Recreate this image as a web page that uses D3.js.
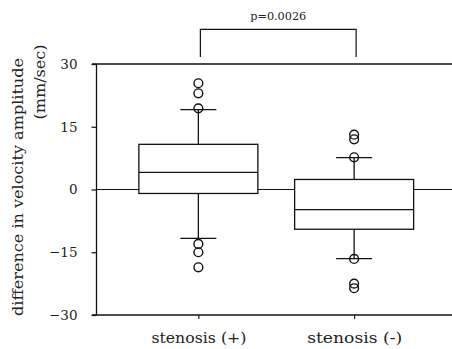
<!DOCTYPE html>
<html><head><meta charset="utf-8">
<script src="https://cdn.jsdelivr.net/npm/d3@7"></script>
<style>body{margin:0;background:#fff;} svg{display:block;}</style>
</head><body>
<svg id="c" width="452" height="349"></svg>
<script>
const categories = ["stenosis (+)", "stenosis (-)"];
const q1 = [-0.95, -9.5];
const median = [4.1, -4.8];
const q3 = [10.8, 2.4];
const whiskerLow = [-11.7, -16.5];
const whiskerHigh = [19.1, 7.6];
const outliers = [
  [25.4, 23.0, 19.4, -13.0, -15.0, -18.6],
  [13.1, 12.0, 7.7, -16.6, -22.5, -23.6]
];
const yTicks = [-30, -15, 0, 15, 30];
const pLabel = "p=0.0026";
const bracketTop = 38.3, bracketBottom = 31.7;
const yLabel1 = "difference in velocity amplitude";
const yLabel2 = "(mm/sec)";

const svg = d3.select("#c");
const font = "'DejaVu Serif', 'Liberation Serif', serif";
const x = d3.scalePoint().domain(categories).range([96.5, 456]).padding(0.654);
const y = d3.scaleLinear().domain([-30, 30]).range([315, 64]);
const boxW = 119, capW = 36, r = 4.4;
const ink = "#111";

// axes frame
const g = svg.append("g").attr("stroke", ink).attr("fill", "none");
g.append("line").attr("x1", x.range()[0]).attr("x2", x.range()[0]).attr("y1", y(-30)).attr("y2", y(30)).attr("stroke-width", 1.3);
g.append("line").attr("x1", 92).attr("x2", 452).attr("y1", y(30)).attr("y2", y(30)).attr("stroke-width", 1.3);
g.append("line").attr("x1", 92).attr("x2", 452).attr("y1", y(-30)).attr("y2", y(-30)).attr("stroke-width", 1.3);
g.append("line").attr("x1", x.range()[0]).attr("x2", 452).attr("y1", y(0)).attr("y2", y(0)).attr("stroke-width", 1.1);

// y ticks
const yAxis = d3.axisLeft(y).tickValues(yTicks).tickSize(5).tickPadding(14)
  .tickFormat(d => d < 0 ? "\u2212" + Math.abs(d) : d);
const ya = svg.append("g").attr("transform", `translate(${x.range()[0]},0)`).call(yAxis);
ya.select(".domain").remove();
ya.selectAll("line").attr("stroke", ink).attr("stroke-width", 1.2);
ya.selectAll("text").attr("font-family", font).attr("font-size", 13.5).attr("fill", "#222");

// x ticks & labels
const xAxis = d3.axisBottom(x).tickSize(4).tickPadding(14);
const xa = svg.append("g").attr("transform", `translate(0,${y(-30)})`).call(xAxis);
xa.select(".domain").remove();
xa.selectAll("line").attr("stroke", ink).attr("stroke-width", 1.1);
xa.selectAll("text").attr("font-family", font).attr("font-size", 14).attr("fill", "#222")
  .attr("textLength", 95).attr("lengthAdjust", "spacingAndGlyphs");

// boxes
categories.forEach((c, i) => {
  const cx = x(c);
  const b = svg.append("g").attr("stroke", ink).attr("stroke-width", 1.3);
  b.append("line").attr("x1", cx).attr("x2", cx).attr("y1", y(whiskerHigh[i])).attr("y2", y(q3[i]));
  b.append("line").attr("x1", cx).attr("x2", cx).attr("y1", y(q1[i])).attr("y2", y(whiskerLow[i]));
  b.append("line").attr("x1", cx - capW/2).attr("x2", cx + capW/2).attr("y1", y(whiskerHigh[i])).attr("y2", y(whiskerHigh[i]));
  b.append("line").attr("x1", cx - capW/2).attr("x2", cx + capW/2).attr("y1", y(whiskerLow[i])).attr("y2", y(whiskerLow[i]));
  b.append("rect").attr("x", cx - boxW/2).attr("width", boxW).attr("y", y(q3[i])).attr("height", y(q1[i]) - y(q3[i])).attr("fill", "#fff");
  b.append("line").attr("x1", cx - boxW/2).attr("x2", cx + boxW/2).attr("y1", y(median[i])).attr("y2", y(median[i]));
  b.selectAll("circle").data(outliers[i]).join("circle")
    .attr("cx", cx).attr("cy", d => y(d)).attr("r", r).attr("fill", "none").attr("stroke-width", 1.4);
});

// significance bracket
const x0 = x(categories[0]) + 2, x1 = x(categories[1]) + 2;
svg.append("path").attr("fill", "none").attr("stroke", ink).attr("stroke-width", 1.2)
  .attr("d", `M${x0},${y(bracketBottom)}V${y(bracketTop)}H${x1}V${y(bracketBottom)}`);
svg.append("text").attr("x", (x0 + x1) / 2).attr("y", 20).attr("text-anchor", "middle")
  .attr("font-family", font).attr("font-size", 11.5).attr("fill", "#222")
  .attr("textLength", 56).attr("lengthAdjust", "spacingAndGlyphs").text(pLabel);

// y label
svg.append("text").attr("transform", "translate(23,187) rotate(-90)").attr("text-anchor", "middle")
  .attr("font-family", font).attr("font-size", 14).attr("fill", "#222")
  .attr("textLength", 258).attr("lengthAdjust", "spacingAndGlyphs").text(yLabel1);
svg.append("text").attr("transform", "translate(45,82) rotate(-90)").attr("text-anchor", "middle")
  .attr("font-family", font).attr("font-size", 14).attr("fill", "#222")
  .attr("textLength", 75).attr("lengthAdjust", "spacingAndGlyphs").text(yLabel2);
</script>
</body></html>
